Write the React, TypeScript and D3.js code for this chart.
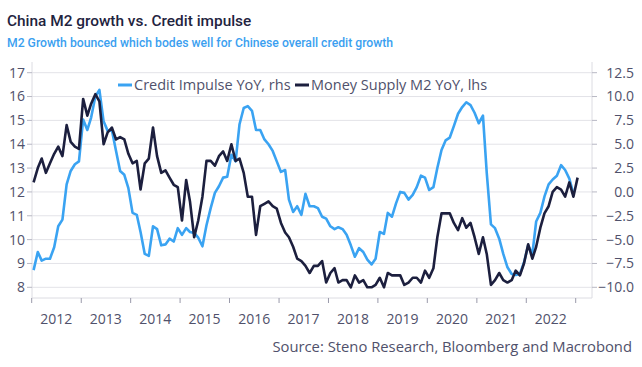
import React, { useRef, useEffect } from 'react';
import * as d3 from 'd3';

// monthly values, first point Jan 2012
const startYear = 2012;
const m2Growth = [
  12.4, 13.0, 13.4, 12.8, 13.2, 13.6, 13.9, 13.5, 14.8, 14.1, 13.9, 13.8,
  15.9, 15.2, 15.7, 16.1, 15.8, 14.0, 14.5, 14.7, 14.2, 14.3, 14.2, 13.6,
  13.2, 13.3, 12.1, 13.2, 13.4, 14.7, 13.5, 12.8, 12.9, 12.6, 12.3, 12.2,
  10.8, 12.5, 11.6, 10.1, 10.8, 11.8, 13.3, 13.3, 13.1, 13.5, 13.7, 13.3,
  14.0, 13.3, 13.4, 12.8, 11.8, 11.8, 10.2, 11.4, 11.5, 11.6, 11.4, 11.3,
  10.7, 10.3, 10.1, 9.7, 9.2, 9.1, 8.9, 8.6, 8.9, 8.9, 9.1, 8.2,
  8.6, 8.8, 8.2, 8.3, 8.3, 8.0, 8.5, 8.2, 8.3, 8.0, 8.0, 8.1,
  8.4, 8.0, 8.6, 8.5, 8.5, 8.5, 8.1, 8.2, 8.4, 8.4, 8.2, 8.7,
  8.4, 8.8, 10.1, 11.1, 11.1, 11.1, 10.7, 10.4, 10.9, 10.5, 10.7, 10.1,
  9.4, 10.1, 9.4, 8.1, 8.3, 8.6, 8.3, 8.2, 8.3, 8.7, 8.5, 9.0,
  9.8, 9.2, 9.7, 10.5, 11.1, 11.4, 12.0, 12.2, 12.1, 11.8, 12.4, 11.8,
  12.6,
];
const creditImpulse = [
  -8.2, -6.3, -7.2, -7.0, -7.0, -5.8, -3.6, -2.9, 0.8, 2.2, 2.9, 3.2,
  7.6, 6.5, 7.8, 10.0, 10.7, 7.4, 6.4, 6.5, 4.3, 2.2, 1.8, 0.4,
  -2.2, -2.4, -4.2, -6.5, -6.7, -3.6, -3.9, -5.6, -5.5, -4.9, -5.2, -3.8,
  -4.5, -3.8, -4.2, -4.3, -4.8, -5.7, -3.5, -1.7, -0.1, 0.6, 1.5, 1.6,
  3.9, 3.2, 7.1, 8.8, 9.0, 8.5, 6.5, 6.5, 5.5, 5.0, 4.3, 3.2,
  2.1, 2.3, -0.8, -2.1, -1.5, -2.4, -0.2, -1.5, -1.5, -1.7, -2.6, -2.8,
  -3.6, -3.9, -3.7, -3.9, -4.5, -5.6, -6.8, -5.9, -6.3, -7.1, -7.6, -7.0,
  -4.2, -4.4, -2.2, -2.6, -1.2, 0.0, -0.1, -0.8, -0.3, 0.5, 1.7, 1.5,
  0.2, 0.5, 2.5, 4.4, 5.4, 5.7, 6.9, 8.2, 8.9, 9.4, 9.1, 8.3,
  7.2, 8.0, 2.0, -3.4, -3.8, -4.9, -6.5, -7.9, -8.6, -8.7, -8.6, -7.4,
  -5.6, -6.5, -3.1, -2.2, -0.5, 0.8, 1.3, 1.7, 2.8, 2.3, 1.4, -0.2,
];
const yearLabels = ['2012', '2013', '2014', '2015', '2016', '2017', '2018', '2019', '2020', '2021', '2022'];
const leftTicks = [8, 9, 10, 11, 12, 13, 14, 15, 16, 17];
const rightTicks = [-10, -7.5, -5, -2.5, 0, 2.5, 5, 7.5, 10, 12.5];

const W = 642;
const H = 367;
const FONT = "'Open Sans', sans-serif";
const TITLE_FONT = "Roboto, sans-serif";
const BLUE = '#3aa3f2';
const NAVY = '#1c1f3e';
const GREY = '#50516b';

export default function App() {
  const svgRef = useRef<SVGSVGElement>(null);

  useEffect(() => {
    if (!svgRef.current) return;
    const svg = d3.select(svgRef.current);
    svg.selectAll('*').remove();

    const plot = { left: 32, right: 592, top: 62, bottom: 298 };

    const x = d3.scaleTime()
      .domain([new Date(2012, 0, 1), new Date(2023, 0, 1)])
      .range([31.7, 575.7]);
    const yL = d3.scaleLinear().domain([8, 17]).range([287.3, 72.7]);
    const yR = d3.scaleLinear().domain([-10, 12.5]).range([287.3, 72.7]);

    const monthDate = (i: number) => new Date(startYear, i, 15);

    // gridlines
    svg.append('g')
      .selectAll('line')
      .data(leftTicks)
      .join('line')
      .attr('x1', plot.left).attr('x2', plot.right)
      .attr('y1', d => yL(d)).attr('y2', d => yL(d))
      .attr('stroke', '#e3e3e8').attr('stroke-width', 1);

    // frame
    svg.append('path')
      .attr('d', `M${plot.left},${plot.top}V${plot.bottom}H${plot.right}V${plot.top}`)
      .attr('fill', 'none').attr('stroke', '#dcdce2').attr('stroke-width', 1);

    // left axis
    const gl = svg.append('g').attr('font-family', FONT).attr('font-size', 14).attr('fill', GREY);
    leftTicks.forEach(t => {
      gl.append('line').attr('x1', 27).attr('x2', plot.left).attr('y1', yL(t)).attr('y2', yL(t))
        .attr('stroke', '#b8b8c4');
      gl.append('text').attr('x', 25).attr('y', yL(t)).attr('dy', '0.35em')
        .attr('text-anchor', 'end').text(t);
    });

    // right axis
    const gr = svg.append('g').attr('font-family', FONT).attr('font-size', 14).attr('fill', GREY);
    rightTicks.forEach(t => {
      gr.append('line').attr('x1', plot.right).attr('x2', plot.right + 5).attr('y1', yR(t)).attr('y2', yR(t))
        .attr('stroke', '#b8b8c4');
      gr.append('text').attr('x', 634).attr('y', yR(t)).attr('dy', '0.35em')
        .attr('text-anchor', 'end').text(d3.format('.1f')(t));
    });

    // bottom axis
    const gb = svg.append('g').attr('font-family', FONT).attr('font-size', 14).attr('fill', GREY);
    d3.range(startYear, startYear + yearLabels.length + 1).forEach(yr => {
      const xx = x(new Date(yr, 0, 1));
      gb.append('line').attr('x1', xx).attr('x2', xx).attr('y1', plot.bottom).attr('y2', plot.bottom + 5)
        .attr('stroke', '#9a9aaa');
    });
    yearLabels.forEach((lab, i) => {
      gb.append('text')
        .attr('x', x(new Date(startYear + i, 6, 1)))
        .attr('y', 324)
        .attr('text-anchor', 'middle')
        .text(lab);
    });

    // series
    const lineL = d3.line<number>().x((_, i) => x(monthDate(i))).y(d => yL(d));
    const lineR = d3.line<number>().x((_, i) => x(monthDate(i))).y(d => yR(d));
    svg.append('path').attr('d', lineR(creditImpulse)!)
      .attr('fill', 'none').attr('stroke', BLUE).attr('stroke-width', 2.6).attr('stroke-linejoin', 'round');
    svg.append('path').attr('d', lineL(m2Growth)!)
      .attr('fill', 'none').attr('stroke', NAVY).attr('stroke-width', 2.6).attr('stroke-linejoin', 'round');

    // legend
    const lg = svg.append('g').attr('font-family', FONT).attr('font-size', 14.5).attr('fill', GREY);
    lg.append('line').attr('x1', 118).attr('x2', 132).attr('y1', 85).attr('y2', 85).attr('stroke', BLUE).attr('stroke-width', 3);
    lg.append('text').attr('x', 134).attr('y', 85).attr('dy', '0.35em').text('Credit Impulse YoY, rhs');
    lg.append('line').attr('x1', 295).attr('x2', 309).attr('y1', 85).attr('y2', 85).attr('stroke', NAVY).attr('stroke-width', 3);
    lg.append('text').attr('x', 311).attr('y', 85).attr('dy', '0.35em').text('Money Supply M2 YoY, lhs');

    // titles
    svg.append('text').attr('x', 7).attr('y', 26).attr('font-family', TITLE_FONT).attr('font-size', 15.4)
      .attr('font-weight', 500).attr('fill', '#1f2440').text('China M2 growth vs. Credit impulse');
    svg.append('text').attr('x', 7).attr('y', 47).attr('font-family', TITLE_FONT).attr('font-size', 12.2)
      .attr('font-weight', 500).attr('fill', '#3b9ff0').text('M2 Growth bounced which bodes well for Chinese overall credit growth');
    svg.append('text').attr('x', 632).attr('y', 352).attr('font-family', FONT).attr('font-size', 14.8)
      .attr('text-anchor', 'end').attr('fill', GREY).text('Source: Steno Research, Bloomberg and Macrobond');
  }, []);

  return (
    <svg ref={svgRef} width={W} height={H}
      style={{ position: 'absolute', left: 0, top: 0, background: '#fff' }} />
  );
}
